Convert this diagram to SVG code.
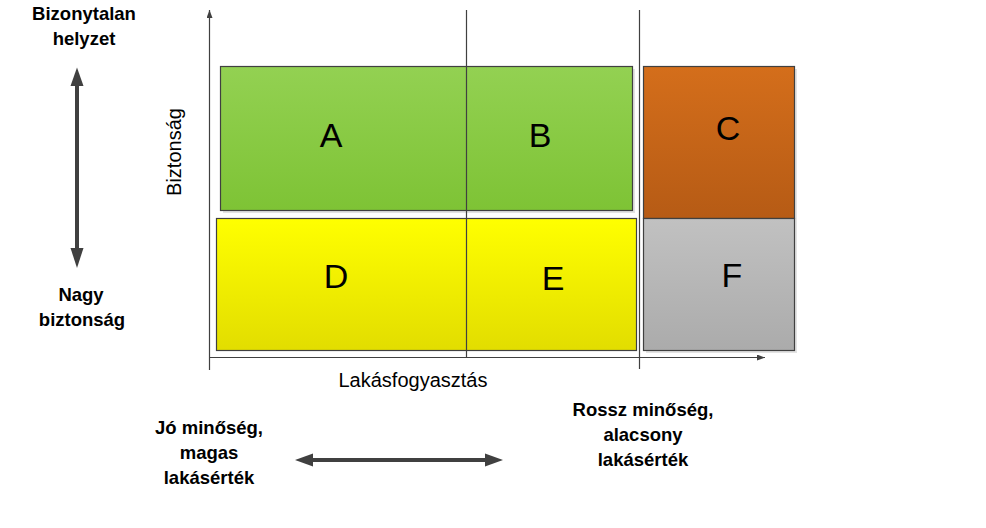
<svg xmlns="http://www.w3.org/2000/svg" width="986" height="528" viewBox="0 0 986 528">
<defs>
<linearGradient id="gGreen" x1="0" y1="0" x2="0" y2="1"><stop offset="0" stop-color="#93D152"/><stop offset="1" stop-color="#7EC335"/></linearGradient>
<linearGradient id="gYellow" x1="0" y1="0" x2="0" y2="1"><stop offset="0" stop-color="#FFFF00"/><stop offset="1" stop-color="#E2DD00"/></linearGradient>
<linearGradient id="gOrange" x1="0" y1="0" x2="0" y2="1"><stop offset="0" stop-color="#D46E1B"/><stop offset="1" stop-color="#B65B15"/></linearGradient>
<linearGradient id="gGray" x1="0" y1="0" x2="0" y2="1"><stop offset="0" stop-color="#C1C1C1"/><stop offset="1" stop-color="#ABABAB"/></linearGradient>
<marker id="axHead" markerWidth="8" markerHeight="6" refX="8" refY="3" orient="auto" markerUnits="userSpaceOnUse"><path d="M0,0 L8,3 L0,6 Z" fill="#404040"/></marker>
</defs>
<style>
.box{stroke:#404040;stroke-width:1.2}
.shadow{fill:#e3e3e3}
.letter{font-family:"Liberation Sans",Arial,sans-serif;font-size:34px;fill:#000;text-anchor:middle}
.lbl{font-family:"Liberation Sans",Arial,sans-serif;font-size:18.5px;font-weight:bold;fill:#000;text-anchor:middle}
.axlbl{font-family:"Liberation Sans",Arial,sans-serif;font-size:20px;fill:#000;text-anchor:middle}
.ax{stroke:#404040;stroke-width:1.2;fill:none}
.big{stroke:#404040;stroke-width:4;fill:none}
</style>
<rect width="986" height="528" fill="#ffffff"/>

<g id="nodeAB">
<rect class="shadow" x="223" y="69" width="412" height="144"/>
<rect class="box" x="220.5" y="66.5" width="412" height="144" fill="url(#gGreen)"/>
</g>
<g id="nodeDE">
<rect class="box" x="216.5" y="218.5" width="420" height="132" fill="url(#gYellow)"/>
</g>
<g id="nodeCF">
<rect class="shadow" x="646" y="69" width="151" height="284"/>
<rect class="box" x="643.5" y="66.5" width="151" height="152" fill="url(#gOrange)"/>
<rect class="box" x="643.5" y="218.5" width="151" height="132" fill="url(#gGray)"/>
</g>

<g id="connectors">
<line class="ax" x1="209.5" y1="370" x2="209.5" y2="10" marker-end="url(#axHead)"/>
<line class="ax" x1="209" y1="357.5" x2="765" y2="357.5" marker-end="url(#axHead)"/>
<line class="ax" x1="466.5" y1="10" x2="466.5" y2="357"/>
<line class="ax" x1="639.5" y1="10" x2="639.5" y2="369"/>
<line class="big" x1="77" y1="250" x2="77" y2="84"/>
<path d="M77,67.5 L70.5,86 L83.5,86 Z" fill="#404040"/>
<path d="M77,268 L70.5,248 L83.5,248 Z" fill="#404040"/>
<line class="big" x1="312" y1="460" x2="486" y2="460"/>
<path d="M295,460 L313,453.5 L313,466.5 Z" fill="#404040"/>
<path d="M503,460 L485,453.5 L485,466.5 Z" fill="#404040"/>
</g>

<g id="letters">
<text class="letter" x="331" y="147">A</text>
<text class="letter" x="540" y="147">B</text>
<text class="letter" x="728" y="140">C</text>
<text class="letter" x="336" y="288">D</text>
<text class="letter" x="553" y="290">E</text>
<text class="letter" x="732" y="287">F</text>
</g>

<g id="axisLabels">
<text class="axlbl" x="413" y="387">Lakásfogyasztás</text>
<text class="axlbl" transform="translate(181,152) rotate(-90)" x="0" y="0">Biztonság</text>
</g>

<g id="sideLabels">
<text class="lbl" x="84" y="20">Bizonytalan</text>
<text class="lbl" x="84" y="45">helyzet</text>
<text class="lbl" x="81" y="301">Nagy</text>
<text class="lbl" x="82" y="326">biztonság</text>
<text class="lbl" x="209" y="434">Jó minőség,</text>
<text class="lbl" x="209" y="459">magas</text>
<text class="lbl" x="209" y="484">lakásérték</text>
<text class="lbl" x="643" y="416">Rossz minőség,</text>
<text class="lbl" x="643" y="441">alacsony</text>
<text class="lbl" x="643" y="466">lakásérték</text>
</g>
</svg>
